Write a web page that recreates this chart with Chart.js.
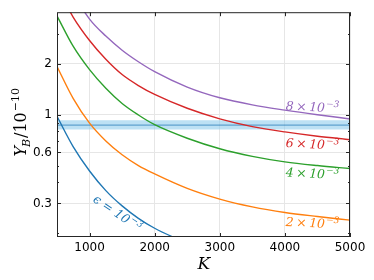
<!DOCTYPE html>
<html>
<head>
<meta charset="utf-8">
<script src="https://cdn.jsdelivr.net/npm/chart.js@4.4.1/dist/chart.umd.min.js"></script>
<style>
    body { margin: 0; background: #fff; }
    #wrap { width: 374px; height: 280px; }
</style>
</head>
<body>
<div id="wrap"><canvas id="chart"></canvas></div>
<script>
// values (Y_B in units of 1e-10)
const kValues = [500, 750, 1000, 1250, 1500, 1750, 2000, 2500, 3000, 3500, 4000, 4500, 5000];
const eps1 = [0.98, 0.647, 0.466, 0.357, 0.29, 0.245, 0.214, 0.174];
const eps2 = [1.93, 1.247, 0.893, 0.701, 0.581, 0.502, 0.448, 0.368, 0.318, 0.286, 0.265, 0.251, 0.239];
const eps4 = [3.84, 2.535, 1.849, 1.435, 1.167, 0.998, 0.875, 0.728, 0.631, 0.569, 0.528, 0.502, 0.482];
const eps6 = [5.70, 3.77, 2.75, 2.13, 1.73, 1.49, 1.32, 1.094, 0.948, 0.853, 0.793, 0.748, 0.714];
const eps8 = [7.87, 5.2, 3.68, 2.92, 2.41, 2.06, 1.80, 1.46, 1.262, 1.146, 1.067, 1.002, 0.946];

const obsCentral = 0.87;
const obsLow = 0.82;
const obsHigh = 0.93;

const xTicks = [1000, 2000, 3000, 4000, 5000];
const yTicks = [0.3, 0.6, 1, 2];
const yMinor = [0.2, 0.4, 0.5, 0.7, 0.8, 0.9, 3];

const colors = ['#1f77b4', '#ff7f0e', '#2ca02c', '#d62728', '#9467bd'];

// curve labels, anchored in data units
const curveLabels = [
    { pre: '8', k: 4010, y: 1.07, rot: 0.05, color: colors[4] },
    { pre: '6', k: 4010, y: 0.646, rot: 0.05, color: colors[3] },
    { pre: '4', k: 4010, y: 0.433, rot: 0.05, color: colors[2] },
    { pre: '2', k: 4010, y: 0.221, rot: 0.05, color: colors[1] }
];

const toPoints = (vals) => vals.map((v, i) => ({ x: kValues[i], y: v }));

function lineSet(vals, color) {
    return {
        data: toPoints(vals),
        borderColor: color,
        borderWidth: 1.4,
        pointRadius: 0,
        fill: false,
        cubicInterpolationMode: 'monotone'
    };
}

const serif = '"DejaVu Serif", serif';

// draw base text followed by a raised superscript
function drawSup(ctx, base, sup, x, y, size) {
    ctx.font = 'italic ' + size + 'px ' + serif;
    ctx.fillText(base, x, y);
    x += ctx.measureText(base).width + 1;
    ctx.font = 'italic ' + Math.round(size * 0.7) + 'px ' + serif;
    ctx.fillText(sup, x, y - size * 0.42);
}

const decorPlugin = {
    id: 'decor',
    afterDraw(chart) {
        const ctx = chart.ctx;
        const a = chart.chartArea;
        const xs = chart.scales.x;
        const ys = chart.scales.y;
        ctx.save();

        // frame
        ctx.strokeStyle = '#262626';
        ctx.lineWidth = 1;
        ctx.strokeRect(a.left + 0.5, a.top + 0.5, a.right - a.left - 1, a.bottom - a.top - 1);

        // inward ticks
        ctx.beginPath();
        xTicks.forEach(v => {
            const px = Math.round(xs.getPixelForValue(v)) + 0.5;
            ctx.moveTo(px, a.bottom);
            ctx.lineTo(px, a.bottom - 4);
            ctx.moveTo(px, a.top);
            ctx.lineTo(px, a.top + 4);
        });
        yTicks.forEach(v => {
            const py = Math.round(ys.getPixelForValue(v)) + 0.5;
            ctx.moveTo(a.left, py);
            ctx.lineTo(a.left + 4, py);
            ctx.moveTo(a.right, py);
            ctx.lineTo(a.right - 4, py);
        });
        yMinor.forEach(v => {
            const py = Math.round(ys.getPixelForValue(v)) + 0.5;
            ctx.moveTo(a.left, py);
            ctx.lineTo(a.left + 2, py);
            ctx.moveTo(a.right, py);
            ctx.lineTo(a.right - 2, py);
        });
        ctx.stroke();

        // axis titles
        ctx.fillStyle = '#000';
        ctx.textBaseline = 'alphabetic';
        ctx.font = 'italic 17px ' + serif;
        ctx.fillText('K', (a.left + a.right) / 2 - 6, 269);

        ctx.save();
        ctx.translate(26, (a.top + a.bottom) / 2 + 32);
        ctx.rotate(-Math.PI / 2);
        let x = 0;
        ctx.font = 'italic 16px ' + serif;
        ctx.fillText('Y', x, 0);
        x += ctx.measureText('Y').width;
        ctx.font = 'italic 11px ' + serif;
        ctx.fillText('B', x - 1, 4);
        x += ctx.measureText('B').width;
        ctx.font = '16px ' + serif;
        ctx.fillText('/10', x, 0);
        x += ctx.measureText('/10').width + 1;
        ctx.font = '11px ' + serif;
        ctx.fillText('\u221210', x, -7);
        ctx.restore();

        // curve labels
        curveLabels.forEach(l => {
            ctx.save();
            ctx.fillStyle = l.color;
            ctx.translate(xs.getPixelForValue(l.k), ys.getPixelForValue(l.y));
            ctx.rotate(l.rot);
            drawSup(ctx, l.pre + '\u2009\u00d7\u200910', '\u22123', 0, 0, 12.5);
            ctx.restore();
        });

        ctx.save();
        ctx.fillStyle = colors[0];
        ctx.translate(xs.getPixelForValue(1040), ys.getPixelForValue(0.31));
        ctx.rotate(0.6);
        drawSup(ctx, '\u03f5 = 10', '\u22123', 0, 0, 12.5);
        ctx.restore();

        ctx.restore();
    }
};

new Chart(document.getElementById('chart'), {
    type: 'line',
    data: {
        datasets: [
            lineSet(eps1, colors[0]),
            lineSet(eps2, colors[1]),
            lineSet(eps4, colors[2]),
            lineSet(eps6, colors[3]),
            lineSet(eps8, colors[4]),
            {
                data: [{ x: 500, y: obsCentral }, { x: 5000, y: obsCentral }],
                borderColor: 'rgba(31,119,180,0.6)',
                borderWidth: 1.4,
                pointRadius: 0,
                fill: false
            },
            {
                data: [{ x: 500, y: obsHigh }, { x: 5000, y: obsHigh }],
                borderWidth: 0,
                pointRadius: 0,
                backgroundColor: 'rgba(135,200,235,0.55)',
                fill: '+1'
            },
            {
                data: [{ x: 500, y: obsLow }, { x: 5000, y: obsLow }],
                borderWidth: 0,
                pointRadius: 0,
                fill: false
            }
        ]
    },
    options: {
        responsive: true,
        maintainAspectRatio: false,
        animation: false,
        layout: { padding: { top: 8, right: 24, left: 0, bottom: 0 } },
        plugins: {
            legend: { display: false },
            tooltip: { enabled: false }
        },
        scales: {
            x: {
                type: 'linear',
                min: 500,
                max: 5000,
                afterBuildTicks: (scale) => { scale.ticks = xTicks.map(v => ({ value: v })); },
                afterFit: (scale) => { scale.height = 43; },
                ticks: {
                    color: '#000',
                    font: { family: '"DejaVu Sans"', size: 12 },
                    padding: 4,
                    maxRotation: 0,
                    callback: (v) => String(v)
                },
                grid: { color: '#e6e6e6', drawTicks: false },
                border: { display: false }
            },
            y: {
                type: 'logarithmic',
                min: 0.19,
                max: 4.04,
                afterBuildTicks: (scale) => { scale.ticks = yTicks.map(v => ({ value: v })); },
                afterFit: (scale) => { scale.width = 57; },
                ticks: {
                    color: '#000',
                    font: { family: '"DejaVu Sans"', size: 12 },
                    padding: 5,
                    callback: (v) => String(v)
                },
                grid: { color: '#e6e6e6', drawTicks: false },
                border: { display: false }
            }
        }
    },
    plugins: [decorPlugin]
});
</script>
</body>
</html>
